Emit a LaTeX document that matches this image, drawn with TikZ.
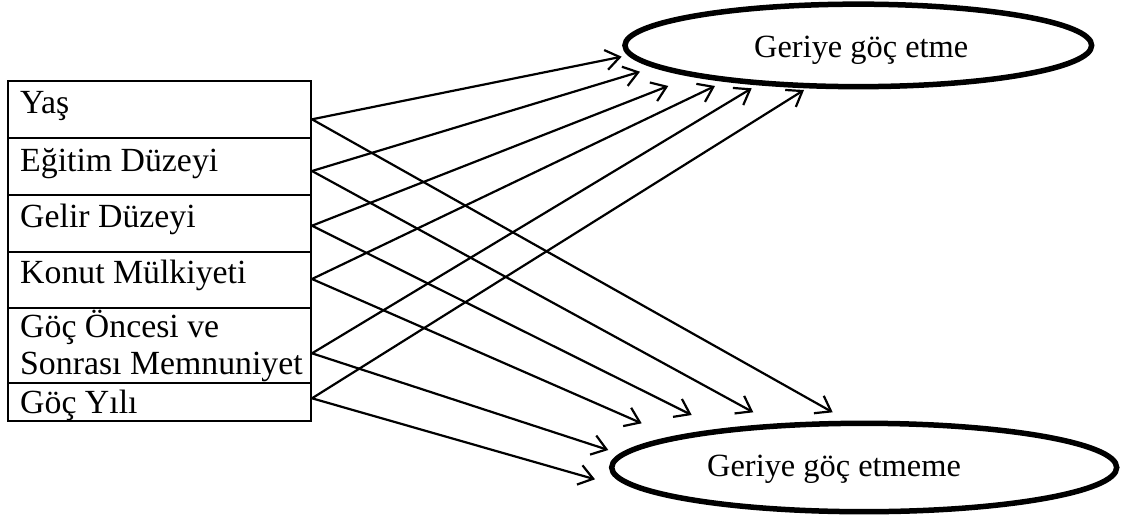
\documentclass[tikz,border=0pt]{standalone}
\usepackage{fontspec}
\setmainfont{Liberation Serif}
\usetikzlibrary{shapes.geometric,arrows.meta}
\tikzset{
  rowbox/.style={draw, line width=2pt, rectangle, inner sep=0pt, minimum width=302.7pt},
  rowtext/.style={anchor=base west, inner sep=0pt, font=\fontsize{33.8}{36}\selectfont},
  outcome/.style={draw, line width=5.5pt, ellipse, inner sep=0pt},
  outtext/.style={anchor=base west, inner sep=0pt, font=\fontsize{32.4}{36}\selectfont},
  link/.style={line width=2.2pt, -{Straight Barb[length=14pt,width=20pt,line width=2.2pt]}}
}
\begin{document}
\begin{tikzpicture}[x=1pt,y=-1pt]
\useasboundingbox (0,0) rectangle (1127,515);
% left boxes
\node[rowbox, minimum height=57pt]   (yas)    at (159.65,109.2) {};
\node[rowbox, minimum height=57.3pt] (egitim) at (159.65,166.35) {};
\node[rowbox, minimum height=56.7pt] (gelir)  at (159.65,223.35) {};
\node[rowbox, minimum height=56.6pt] (konut)  at (159.65,280) {};
\node[rowbox, minimum height=75pt]   (oncesi) at (159.65,345.8) {};
\node[rowbox, minimum height=37.4pt] (yil)    at (159.65,402) {};
% texts
\node[rowtext] (tyas)    at (20,113) {Yaş};
\node[rowtext] (tegitim) at (20,171) {Eğitim Düzeyi};
\node[rowtext] (tgelir)  at (20,227) {Gelir Düzeyi};
\node[rowtext] (tkonut)  at (20,283) {Konut Mülkiyeti};
\node[rowtext] (toncA)   at (20,337) {Göç Öncesi ve};
\node[rowtext] (toncB)   at (20,374) {Sonrası Memnuniyet};
\node[rowtext] (tyil)    at (20,413) {Göç Yılı};
% outcome ellipses
\node[outcome, minimum width=466.7pt, minimum height=82.5pt] (etme) at (858.3,45.4) {};
\node[outcome, minimum width=505pt, minimum height=88.4pt] (etmeme) at (864.2,467.5) {};
\node[outtext] (tetme)   at (754,57.3) {Geriye göç etme};
\node[outtext] (tetmeme) at (707,476.7) {Geriye göç etmeme};
% arrow end points
\coordinate (a1) at (621.7,56.7);
\coordinate (a2) at (640,71.7);
\coordinate (a3) at (668.3,86);
\coordinate (a4) at (715,86);
\coordinate (a5) at (751.7,88.3);
\coordinate (a6) at (804,90);
\coordinate (b1) at (832.7,412.3);
\coordinate (b2) at (753.3,412.3);
\coordinate (b3) at (691.7,415);
\coordinate (b4) at (641.7,423.3);
\coordinate (b5) at (608.3,450);
\coordinate (b6) at (595,479.3);
% start points on box edges
\coordinate (s1) at ([yshift=-10.1pt]yas.east);
\coordinate (s2) at ([yshift=-4.65pt]egitim.east);
\coordinate (s3) at ([yshift=-2.35pt]gelir.east);
\coordinate (s4) at ([yshift=1pt]konut.east);
\coordinate (s5) at ([yshift=-7.5pt]oncesi.east);
\coordinate (s6) at ([yshift=3.7pt]yil.east);
% connectors
\draw[link] (s1) -- (a1);
\draw[link] (s2) -- (a2);
\draw[link] (s3) -- (a3);
\draw[link] (s4) -- (a4);
\draw[link] (s5) -- (a5);
\draw[link] (s6) -- (a6);
\draw[link] (s1) -- (b1);
\draw[link] (s2) -- (b2);
\draw[link] (s3) -- (b3);
\draw[link] (s4) -- (b4);
\draw[link] (s5) -- (b5);
\draw[link] (s6) -- (b6);
\end{tikzpicture}
\end{document}
